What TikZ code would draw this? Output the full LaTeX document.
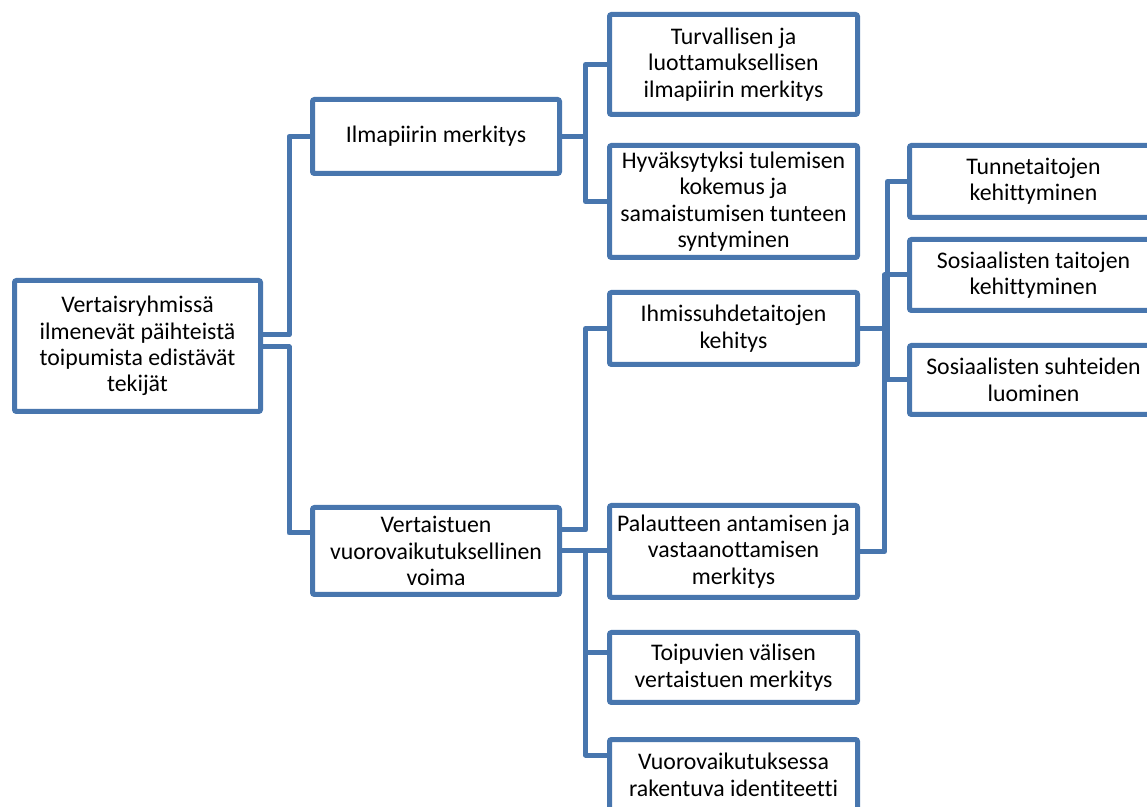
\documentclass[tikz,border=0pt]{standalone}
\usepackage{fontspec}
\setmainfont{Carlito}[Ligatures=NoCommon]
\definecolor{smartblue}{RGB}{72,118,174}

\begin{document}
\begin{tikzpicture}[x=0.5pt,y=-0.5pt,
  box/.style={draw=smartblue,line width=2.5pt,fill=white,align=center,inner sep=0pt,
    minimum width=124pt,font=\fontsize{11.9}{13.2}\selectfont,rounded corners=1pt},
  link/.style={draw=smartblue,line width=2.5pt,line join=round}]
  \useasboundingbox (0,0) rectangle (1147,807);
  \clip (0,0) rectangle (1147,807);
  % boxes
  \node[box,minimum width=123pt,minimum height=65.5pt] (root) at (137.5,346) {Vertaisryhmissä\\ilmenevät päihteistä\\toipumista edistävät\\tekijät};
  \node[box,minimum width=123.5pt,minimum height=37pt] (ilma) at (436,136.5) {Ilmapiirin merkitys};
  \node[box,minimum width=123.5pt,minimum height=43.5pt] (vert) at (436,551) {Vertaistuen\\vuorovaikutuksellinen\\voima};
  \node[box,minimum height=50pt] (turv) at (733.5,64.5) {Turvallisen ja\\luottamuksellisen\\ilmapiirin merkitys};
  \node[box,minimum height=56pt] (hyva) at (733.5,201.5) {Hyväksytyksi tulemisen\\kokemus ja\\samaistumisen tunteen\\syntyminen};
  \node[box,minimum height=36pt] (ihmi) at (733.5,328.5) {Ihmissuhdetaitojen\\kehitys};
  \node[box,minimum height=46pt] (pala) at (733.5,551.5) {Palautteen antamisen ja\\vastaanottamisen\\merkitys};
  \node[box,minimum height=35pt] (toip) at (733.5,667.5) {Toipuvien välisen\\vertaistuen merkitys};
  \node[box,minimum height=35.5pt] (vuor) at (733.5,775) {Vuorovaikutuksessa\\rakentuva identiteetti};
  \node[box,minimum height=36pt] (tunn) at (1033.5,181.5) {Tunnetaitojen\\kehittyminen};
  \node[box,minimum height=35.5pt] (sost) at (1033.5,275) {Sosiaalisten taitojen\\kehittyminen};
  \node[box,minimum height=34.5pt] (sosu) at (1033.5,380) {Sosiaalisten suhteiden\\luominen};
  % connectors
  \draw[link] ([yshift=5.5pt]root.east) -- ++(26,0) |- (ilma.west);
  \draw[link] ([yshift=-0.5pt]root.east) -- ++(26,0) |- ([yshift=9pt]vert.west);
  \draw[link] (ilma.east) -- ++(23.5,0) coordinate (ilmaj);
  \foreach \n in {turv,hyva}
    \draw[link] (ilmaj) |- (\n.west);
  \draw[link] ([yshift=10.5pt]vert.east) -- ++(23.5,0) |- (ihmi.west);
  \draw[link] (vert.east) -- (vert.east -| pala.west);
  \coordinate (vertj) at ([xshift=11.75pt]vert.east);
  \draw[link] (vertj) |- ([yshift=7.25pt]toip.west);
  \draw[link] (vertj) |- ([yshift=10pt]vuor.west);
  \draw[link] (ihmi.east) -- ++(27.5,0) coordinate (ihmij);
  \foreach \n in {tunn,sost,sosu}
    \draw[link] (ihmij) |- (\n.west);
  \draw[link] (pala.east) -- ++(24.5,0) coordinate (palaj) |- (sost.west);
  \draw[link] (palaj) |- (sosu.west);
\end{tikzpicture}
\end{document}
